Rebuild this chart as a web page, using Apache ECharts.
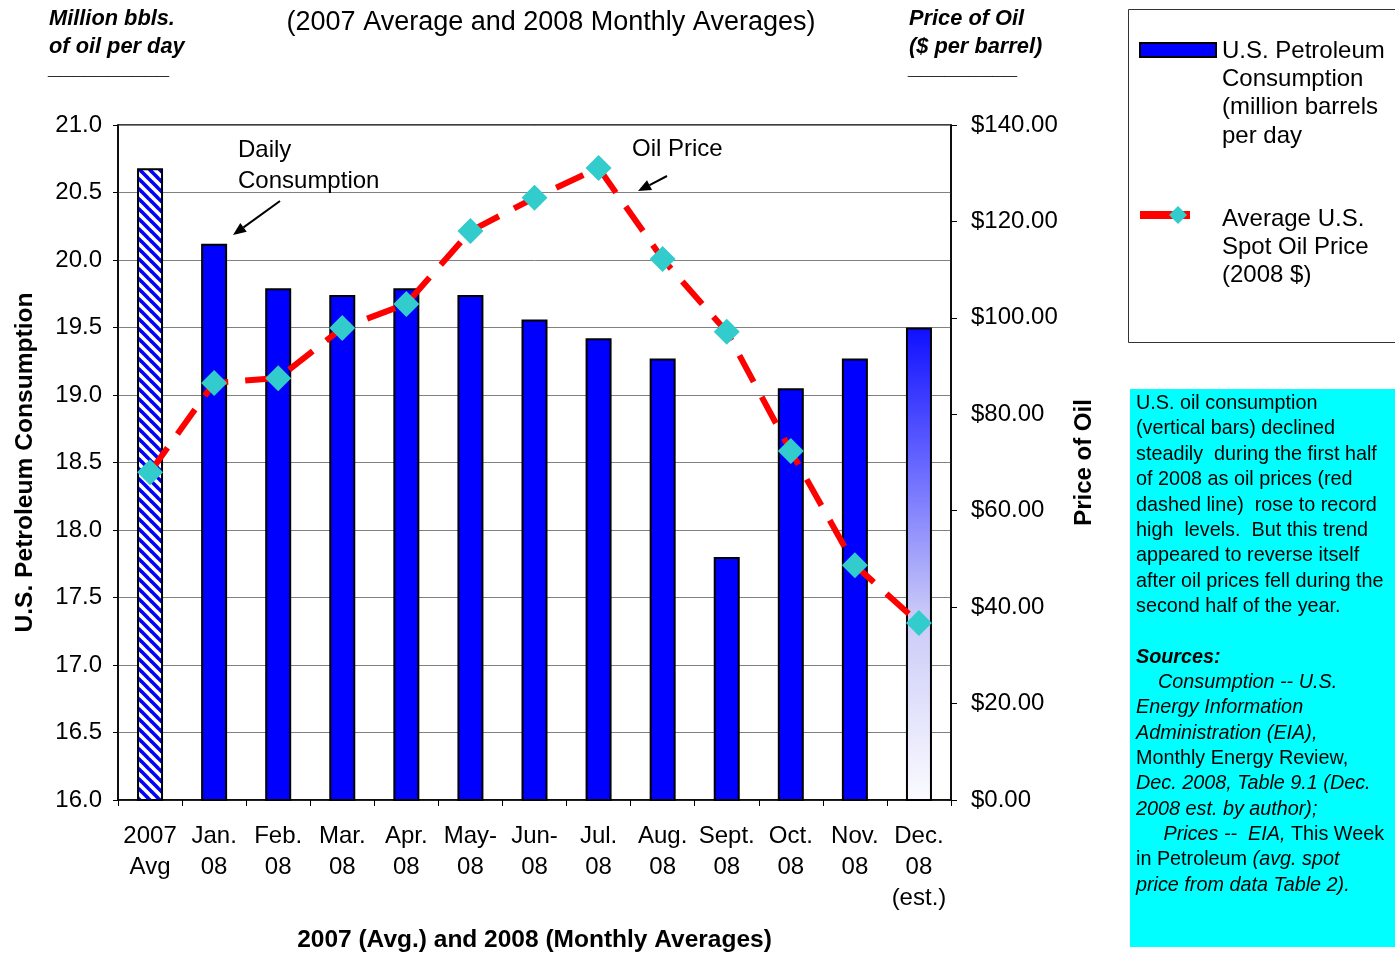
<!DOCTYPE html>
<html>
<head>
<meta charset="utf-8">
<script src="https://cdn.jsdelivr.net/npm/echarts@6/dist/echarts.min.js"></script>
<style>
html,body{margin:0;padding:0;background:#fff;}
#c{width:1395px;height:953px;}
</style>
</head>
<body>
<div id="c"></div>
<script>
const categories = ['2007\nAvg','Jan.\n08','Feb.\n08','Mar.\n08','Apr.\n08','May-\n08','Jun-\n08','Jul.\n08','Aug.\n08','Sept.\n08','Oct.\n08','Nov.\n08','Dec.\n08\n(est.)'];
const consumption = [20.68,20.12,19.79,19.74,19.79,19.74,19.56,19.42,19.27,17.80,19.05,19.27,19.50];
const oilPrice = [68.0,86.5,87.5,97.9,102.9,118.0,124.9,131.1,112.2,97.1,72.4,48.7,36.7];
const leftTicks = [16.0,16.5,17.0,17.5,18.0,18.5,19.0,19.5,20.0,20.5,21.0];
const rightTicks = [0,20,40,60,80,100,120,140];

const FONT = '"Liberation Sans", Arial, sans-serif';

// hatch pattern for 2007 average bar
const pc = document.createElement('canvas');
pc.width = 10; pc.height = 10;
const px = pc.getContext('2d');
px.fillStyle = '#ffffff'; px.fillRect(0,0,10,10);
px.strokeStyle = '#0000ff'; px.lineWidth = 3.6;
for (const k of [-10,0,10]) { px.beginPath(); px.moveTo(k-1,-1); px.lineTo(k+11,11); px.stroke(); }

const barData = consumption.map((v,i)=>{
  if (i===0) return {value:v, itemStyle:{color:{image:pc, repeat:'repeat'}}};
  if (i===consumption.length-1) return {value:v, itemStyle:{color:new echarts.graphic.LinearGradient(0,0,0,1,[
    {offset:0,color:'#0f0fff'},{offset:0.3,color:'#6a6aff'},{offset:0.6,color:'#c8c8f8'},{offset:1,color:'#fbfbff'}])}};
  return v;
});

function arrow(x1,y1,x2,y2){
  const a = Math.atan2(y2-y1,x2-x1), L=13, W=5.5;
  const bx = x2 - L*Math.cos(a), by = y2 - L*Math.sin(a);
  const nx = -Math.sin(a)*W, ny = Math.cos(a)*W;
  return [
    {type:'line', shape:{x1:x1,y1:y1,x2:bx,y2:by}, style:{stroke:'#000',lineWidth:2}, z:100},
    {type:'polygon', shape:{points:[[x2,y2],[bx+nx,by+ny],[bx-nx,by-ny]]}, style:{fill:'#000'}, z:100}
  ];
}

const boxLines = [
  '{n|U.S. oil consumption}',
  '{n|(vertical bars) declined}',
  '{n|steadily  during the first half}',
  '{n|of 2008 as oil prices (red}',
  '{n|dashed line)  rose to record}',
  '{n|high  levels.  But this trend}',
  '{n|appeared to reverse itself}',
  '{n|after oil prices fell during the}',
  '{n|second half of the year.}',
  '{n| }',
  '{b|Sources:}',
  '{i|    Consumption -- U.S.}',
  '{i|Energy Information}',
  '{i|Administration (EIA),}',
  '{n|Monthly Energy Review,}',
  '{i|Dec. 2008, Table 9.1 (Dec.}',
  '{i|2008 est. by author);}',
  '{i|     Prices --  EIA, }{n|This Week}',
  '{n|in Petroleum}{i| (avg. spot}',
  '{i|price from data Table 2).}'
];
const LH = 25.35;
const FS = 19.8;
const richBox = {
  n:{fontFamily:FONT,fontSize:FS,color:'#000',lineHeight:LH},
  i:{fontFamily:FONT,fontSize:FS,fontStyle:'italic',color:'#000',lineHeight:LH},
  b:{fontFamily:FONT,fontSize:FS,fontStyle:'italic',fontWeight:'bold',color:'#000',lineHeight:LH}
};

const graphics = [
  {type:'text', style:{text:'(2007 Average and 2008 Monthly Averages)', x:551, y:23, align:'center', verticalAlign:'middle', font:'27px '+FONT, fill:'#000'}},
  {type:'text', style:{text:'Million bbls.\nof oil per day', x:49, y:5, font:'italic bold 21.8px '+FONT, lineHeight:28, fill:'#000'}},
  {type:'text', style:{text:'__________', x:49, y:57, font:'italic bold 21.8px '+FONT, fill:'#000'}},
  {type:'text', style:{text:'Price of Oil\n($ per barrel)', x:909, y:5, font:'italic bold 21.8px '+FONT, lineHeight:28, fill:'#000'}},
  {type:'text', style:{text:'_________', x:909, y:57, font:'italic bold 21.8px '+FONT, fill:'#000'}},
  // legend box
  {type:'rect', shape:{x:1128.5,y:9.5,width:290,height:333}, style:{fill:'#fff',stroke:'#333',lineWidth:1}},
  {type:'rect', shape:{x:1140,y:43,width:76,height:14}, style:{fill:'#0000ff',stroke:'#000',lineWidth:2}},
  {type:'text', style:{text:'U.S. Petroleum\nConsumption\n(million barrels\nper day', x:1222, y:37, font:'24px '+FONT, lineHeight:28.3, fill:'#000'}},
  {type:'rect', shape:{x:1140,y:211,width:50,height:8}, style:{fill:'#ff0000'}},
  {type:'polygon', shape:{points:[[1178,206],[1187,215],[1178,224],[1169,215]]}, style:{fill:'#33cccc'}},
  {type:'text', style:{text:'Average U.S.\nSpot Oil Price\n(2008 $)', x:1222, y:205, font:'24px '+FONT, lineHeight:28.3, fill:'#000'}},
  // note box
  {type:'rect', shape:{x:1130,y:389,width:265,height:558}, style:{fill:'#00ffff'}},
  {type:'text', style:{text:boxLines.join('\n'), x:1136, y:391, rich:richBox}},
  // annotations
  {type:'text', style:{text:'Daily\nConsumption', x:238, y:135, font:'24px '+FONT, lineHeight:31, fill:'#000'}, z:100},
  {type:'text', style:{text:'Oil Price', x:632, y:137, font:'24px '+FONT, fill:'#000'}, z:100},
  ...arrow(280,201,233,235),
  ...arrow(667,176,638,191)
];

const chart = echarts.init(document.getElementById('c'), null, {renderer:'canvas'});
chart.setOption({
  backgroundColor:'#fff',
  animation:false,
  textStyle:{fontFamily:FONT,color:'#000'},
  grid:{left:118,right:444,top:125,bottom:153,show:true,borderColor:'#000',borderWidth:1.5,containLabel:false,outerBoundsMode:'none'},
  xAxis:{
    type:'category', data:categories, boundaryGap:true,
    name:'2007 (Avg.) and 2008 (Monthly Averages)', nameLocation:'middle', nameGap:128,
    nameTextStyle:{fontFamily:FONT,fontSize:24.5,fontWeight:'bold',color:'#000'},
    axisLine:{lineStyle:{color:'#000',width:1.5}},
    axisTick:{show:true,length:6,inside:false,alignWithLabel:false,interval:0,lineStyle:{color:'#000'}},
    axisLabel:{interval:0,fontFamily:FONT,fontSize:24,lineHeight:31,color:'#000',margin:21},
    splitLine:{show:false}
  },
  yAxis:[
    {type:'value', min:leftTicks[0], max:leftTicks[leftTicks.length-1], interval:leftTicks[1]-leftTicks[0], position:'left',
     name:'U.S. Petroleum Consumption', nameLocation:'middle', nameGap:80, nameRotate:90,
     nameTextStyle:{fontFamily:FONT,fontSize:24.6,fontWeight:'bold',color:'#000'},
     axisLine:{show:true,lineStyle:{color:'#000',width:1.5}},
     axisTick:{show:true,length:5,lineStyle:{color:'#000'}},
     axisLabel:{fontFamily:FONT,fontSize:24,color:'#000',margin:16,formatter:v=>v.toFixed(1)},
     splitLine:{show:true,lineStyle:{color:'#808080',width:1}}},
    {type:'value', min:rightTicks[0], max:rightTicks[rightTicks.length-1], interval:rightTicks[1]-rightTicks[0], position:'right',
     name:'Price of Oil', nameLocation:'middle', nameGap:121, nameRotate:90,
     nameTextStyle:{fontFamily:FONT,fontSize:24,fontWeight:'bold',color:'#000'},
     axisLine:{show:true,lineStyle:{color:'#000',width:1.5}},
     axisTick:{show:true,length:6,lineStyle:{color:'#000'}},
     axisLabel:{fontFamily:FONT,fontSize:24,color:'#000',margin:20,formatter:v=>'$'+v.toFixed(2)},
     splitLine:{show:false}}
  ],
  series:[
    {type:'bar', name:'U.S. Petroleum Consumption (million barrels per day', yAxisIndex:0, data:barData, barWidth:26,
     itemStyle:{color:'#0000ff',borderColor:'#000',borderWidth:2}, z:2},
    {type:'line', name:'Average U.S. Spot Oil Price (2008 $)', yAxisIndex:1, data:oilPrice,
     symbol:'diamond', symbolSize:26, itemStyle:{color:'#33cccc',borderWidth:0},
     lineStyle:{color:'#ff0000',width:6,type:[30,17]}, z:3}
  ],
  graphic:graphics
});
</script>
</body>
</html>
